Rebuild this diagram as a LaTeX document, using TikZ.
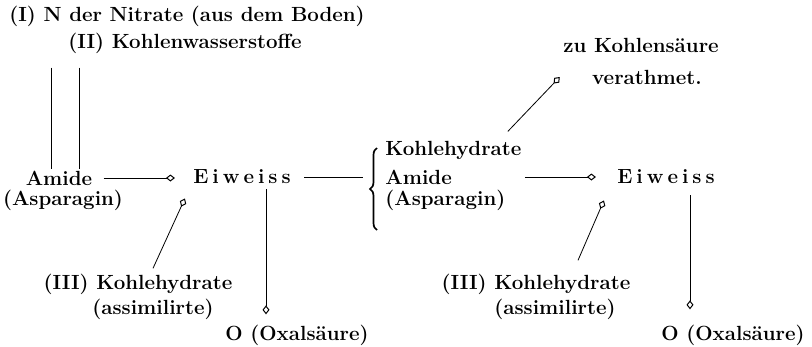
\documentclass[tikz,border=0pt]{standalone}
\usetikzlibrary{arrows.meta, positioning, calc, decorations.pathreplacing}
\newcommand{\eiw}{E\kern4pt i\kern4pt w\kern4pt e\kern4pt i\kern4pt s\kern4pt s}
\tikzset{
  every picture/.style={line width=0.8pt},
  lbl/.style={font=\fontsize{20.5}{24}\selectfont\bfseries, inner sep=1pt},
  flow/.style={-{Diamond[open, length=9pt, width=7pt, line width=1pt]}},
  bracel/.style={decorate, decoration={brace, amplitude=7pt}, line width=1.7pt},
}

\begin{document}
\begin{tikzpicture}[x=1pt, y=-1pt]
  \useasboundingbox (0,0) rectangle (812,346);
  % left scheme
  \node[lbl] (nitrat) at (187,16) {(I) N der Nitrate (aus dem Boden)};
  \node[lbl] (kws) at (185,43) {(II) Kohlenwasserstoffe};
  \node[lbl] (amid) at (59,178) {Amide};
  \node[lbl] (aspa) at (63,200) {(Asparagin)};
  \node[lbl] (eiw) at (242,177) {\eiw};
  \node[lbl] (khyd) at (138,284) {(III) Kohlehydrate};
  \node[lbl] (assim) at (153,309) {(assimilirte)};
  \node[lbl] (oxal) at (297,335) {O (Oxalsäure)};
  % right scheme
  \draw[bracel] (377,230) -- (377,148);
  \coordinate (brace) at (370,177);
  \node[lbl, anchor=west] (khydb) at (384,150) {Kohlehydrate};
  \node[lbl, anchor=west] (amidb) at (384,177) {Amide};
  \node[lbl, anchor=west] (aspab) at (384,200) {(Asparagin)};
  \node[lbl] (kohls) at (641,45) {zu Kohlensäure};
  \node[lbl] (verat) at (647,77) {verathmet.};
  \node[lbl] (eiwb) at (666,177) {\eiw};
  \node[lbl] (khydc) at (536,284) {(III) Kohlehydrate};
  \node[lbl] (assimc) at (555,309) {(assimilirte)};
  \node[lbl] (oxalb) at (733,335) {O (Oxalsäure)};

  \draw ([xshift=-8]amid.north |- nitrat.south) ++(0,40) -- ([xshift=-8]amid.north);
  \draw ([xshift=20]amid.north |- kws.south) ++(0,13) -- ([xshift=20]amid.north);
  \draw[flow, shorten <=10pt, shorten >=17pt] (amid.east) -- (amid.east -| eiw.west);
  \draw[flow] ($(khyd.north)+(15,-4)$) -- ($(eiw.south west)+(-7,13)$);
  \draw[flow, shorten <=4pt, shorten >=9pt] ([xshift=24]eiw.south) -- ([xshift=24]eiw.south |- oxal.north);
  \draw[shorten <=12pt, shorten >=7pt] (eiw.east) -- (brace);

  \draw[flow, shorten <=2pt, shorten >=20pt] (amidb.east -| khydb.east) -- (eiwb.west);
  \draw[flow] ($(khydb.north east)+(-15,-8)$) -- ($(verat.west)+(-31,0)$);
  \draw[flow] ($(khydc.north)+(42,-12)$) -- ($(eiwb.south west)+(-12,15)$);
  \draw[flow, shorten <=10pt, shorten >=14pt] ([xshift=24]eiwb.south) -- ([xshift=24]eiwb.south |- oxalb.north);
\end{tikzpicture}
\end{document}
